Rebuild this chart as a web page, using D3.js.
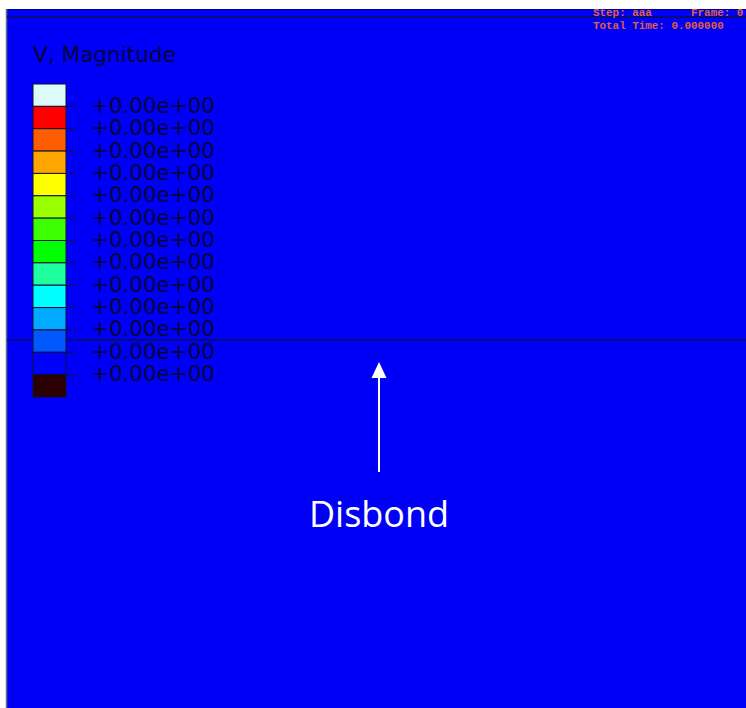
<!DOCTYPE html>
<html>
<head>
<meta charset="utf-8">
<script src="https://cdn.jsdelivr.net/npm/d3@7"></script>
<style>
  html, body { margin: 0; padding: 0; background: #ffffff; }
  svg { display: block; }
</style>
</head>
<body>
<svg id="chart" width="746" height="708"></svg>
<script>
// Contour legend: band colours from top (overflow) to bottom (underflow)
const legendColors = [
  "#dcfafa", "#ff0000", "#ff5d00", "#ffa500", "#ffff00", "#9bff00",
  "#3cff00", "#00ff00", "#1effa0", "#00ffff", "#00aaff", "#0058ff",
  "#0000ff", "#2a0000"
];
// Values at the boundaries between bands
const legendLabels = [
  "+0.00e+00", "+0.00e+00", "+0.00e+00", "+0.00e+00", "+0.00e+00",
  "+0.00e+00", "+0.00e+00", "+0.00e+00", "+0.00e+00", "+0.00e+00",
  "+0.00e+00", "+0.00e+00", "+0.00e+00"
];
// Field value over the whole model (uniform)
const fieldValue = [0];
const legendTitle = "V, Magnitude";
const infoLines = ["Step: aaa      Frame: 0", "Total Time: 0.000000"];
const annotation = "Disbond";

const W = 746, H = 708;
const svg = d3.select("#chart");

// viewport
const view = { x0: 7, y0: 9, x1: 746, y1: 708 };
const fieldColor = d3.scaleQuantize().domain([0, 1]).range(legendColors.slice(1, 13).reverse());

svg.append("rect")
  .attr("x", view.x0).attr("y", view.y0)
  .attr("width", view.x1 - view.x0).attr("height", view.y1 - view.y0)
  .attr("fill", fieldColor(fieldValue[0]) === "#0000ff" ? "#0000f8" : fieldColor(fieldValue[0]));

// viewport frame
svg.append("line").attr("x1", view.x0).attr("x2", view.x1)
  .attr("y1", view.y0 + 0.5).attr("y2", view.y0 + 0.5)
  .attr("stroke", "#00009a").attr("stroke-width", 1);
svg.append("line").attr("x1", view.x0 - 0.5).attr("x2", view.x0 - 0.5)
  .attr("y1", view.y0).attr("y2", view.y1)
  .attr("stroke", "#6a6a80").attr("stroke-width", 1.5);

// model edges
const edgeY = d3.scaleLinear().domain([0, 1]).range([17, 340]);
[0, 1].forEach(v => {
  svg.append("line").attr("x1", view.x0).attr("x2", view.x1)
    .attr("y1", edgeY(v)).attr("y2", edgeY(v))
    .attr("stroke", "#0a0a78").attr("stroke-width", 2);
});

// legend
const legendY = d3.scaleBand()
  .domain(d3.range(legendColors.length))
  .range([84, 397]).paddingInner(0).paddingOuter(0);
const lg = svg.append("g");
lg.selectAll("rect.band").data(legendColors).join("rect")
  .attr("class", "band")
  .attr("x", 33).attr("y", (d, i) => legendY(i))
  .attr("width", 33).attr("height", legendY.bandwidth())
  .attr("fill", d => d)
  .attr("stroke", "#101030").attr("stroke-width", 1);

lg.selectAll("line.tick").data(legendLabels).join("line")
  .attr("class", "tick")
  .attr("x1", 66).attr("x2", 76)
  .attr("y1", (d, i) => legendY(i + 1)).attr("y2", (d, i) => legendY(i + 1))
  .attr("stroke", "#10103a").attr("stroke-width", 1);

lg.selectAll("text.lab").data(legendLabels).join("text")
  .attr("class", "lab")
  .attr("x", 91).attr("y", (d, i) => legendY(i + 1) + 6.5)
  .attr("font-family", "DejaVu Sans, Verdana, sans-serif")
  .attr("font-size", 21.4)
  .attr("fill", "#05053a")
  .text(d => d);

svg.append("text")
  .attr("x", 33).attr("y", 62)
  .attr("font-family", "DejaVu Sans, Verdana, sans-serif")
  .attr("font-size", 21.6)
  .attr("fill", "#05053a")
  .text(legendTitle);

// step / frame info
svg.selectAll("text.info").data(infoLines).join("text")
  .attr("class", "info")
  .attr("x", 593).attr("y", (d, i) => 16 + i * 12.5)
  .attr("font-family", "Liberation Mono, DejaVu Sans Mono, monospace")
  .attr("font-size", 10.9).attr("font-weight", "bold")
  .attr("fill", "#e0603a")
  .attr("xml:space", "preserve")
  .style("white-space", "pre")
  .text(d => d);

// disbond annotation
const ax = 379;
svg.append("line").attr("x1", ax).attr("x2", ax)
  .attr("y1", 472).attr("y2", 376)
  .attr("stroke", "#ffffff").attr("stroke-width", 2);
svg.append("path")
  .attr("d", d3.line()([[ax, 362], [ax - 7.5, 378], [ax + 7.5, 378]]) + "Z")
  .attr("fill", "#ffffff");
svg.append("text")
  .attr("x", ax).attr("y", 527)
  .attr("text-anchor", "middle")
  .attr("font-family", "Open Sans, Lato, sans-serif")
  .attr("font-size", 36)
  .attr("fill", "#ffffff")
  .text(annotation);
</script>
</body>
</html>
